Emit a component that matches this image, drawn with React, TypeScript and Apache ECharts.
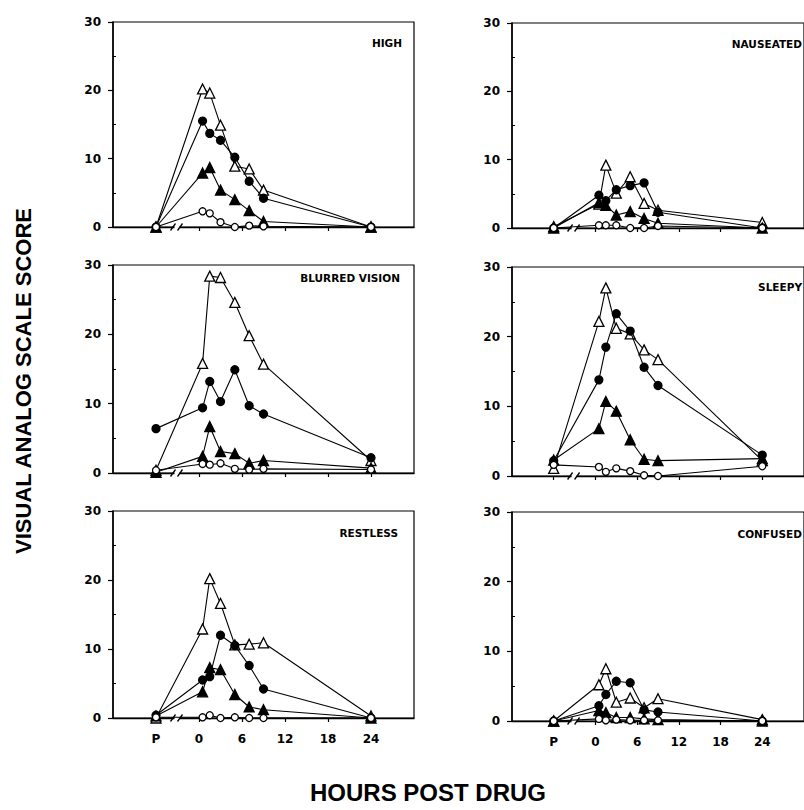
import React, { useEffect, useRef } from 'react';
import * as echarts from 'echarts';

// Sampling times (hours); P = pre-drug plotted at -6
const TIMES = [-6, 0.5, 1.5, 3, 5, 7, 9, 24];
const X_TICK_VALUES = [-6, 0, 6, 12, 18, 24];
const X_TICK_LABELS = ['P', '0', '6', '12', '18', '24'];
const Y_MINOR_TICKS = [5, 15, 25];
const BREAK_AT = [-3];

const PANEL_TITLES = ['HIGH', 'NAUSEATED', 'BLURRED VISION', 'SLEEPY', 'RESTLESS', 'CONFUSED'];

// Series per panel: open triangles, filled circles, filled triangles, open circles
const HIGH_OPEN_TRI = [0, 20.2, 19.6, 14.9, 8.9, 8.5, 5.4, 0];
const HIGH_FILLED_CIRC = [0, 15.5, 13.7, 12.7, 10.2, 6.7, 4.2, 0];
const HIGH_FILLED_TRI = [0, 7.9, 8.7, 5.4, 4.0, 2.4, 0.8, 0];
const HIGH_OPEN_CIRC = [0, 2.3, 2.0, 0.7, 0, 0.2, 0.1, 0];

const NAUS_OPEN_TRI = [0.2, 3.5, 9.2, 5.1, 7.5, 3.6, 2.6, 0.8];
const NAUS_FILLED_CIRC = [0, 4.8, 4.0, 5.6, 6.2, 6.6, 2.3, 0];
const NAUS_FILLED_TRI = [0, 3.7, 3.3, 1.9, 2.4, 1.4, 0.7, 0];
const NAUS_OPEN_CIRC = [0, 0.4, 0.4, 0.4, 0, 0, 0.3, 0];

const BLUR_OPEN_TRI = [0.4, 15.8, 28.4, 28.2, 24.6, 19.8, 15.7, 1.8];
const BLUR_FILLED_CIRC = [6.4, 9.4, 13.2, 10.3, 14.9, 9.7, 8.5, 2.2];
const BLUR_FILLED_TRI = [0.1, 2.4, 6.7, 3.1, 2.8, 1.4, 1.8, 0.7];
const BLUR_OPEN_CIRC = [0.4, 1.3, 1.2, 1.4, 0.6, 0.5, 0.6, 0.5];

const SLEEP_OPEN_TRI = [1.1, 22.2, 27.0, 21.2, 20.4, 18.1, 16.7, 2.2];
const SLEEP_FILLED_CIRC = [2.2, 13.8, 18.5, 23.3, 20.8, 15.6, 13.0, 3.0];
const SLEEP_FILLED_TRI = [2.3, 6.8, 10.7, 9.3, 5.2, 2.4, 2.2, 2.5];
const SLEEP_OPEN_CIRC = [1.6, 1.3, 0.6, 1.1, 0.7, 0.1, 0, 1.4];

const REST_OPEN_TRI = [0, 12.9, 20.2, 16.6, 10.6, 10.7, 10.9, 0.3];
const REST_FILLED_CIRC = [0.4, 5.5, 6.0, 12.0, 10.5, 7.6, 4.2, 0];
const REST_FILLED_TRI = [0.3, 3.8, 7.3, 7.0, 3.4, 1.6, 1.2, 0];
const REST_OPEN_CIRC = [0.1, 0.1, 0.4, 0, 0.1, 0, 0, 0];

const CONF_OPEN_TRI = [0, 5.2, 7.5, 2.7, 3.3, 1.9, 3.2, 0.2];
const CONF_FILLED_CIRC = [0, 2.2, 3.8, 5.7, 5.5, 1.6, 1.3, 0];
const CONF_FILLED_TRI = [0, 1.5, 1.2, 0.5, 0.5, 0.3, 0.2, 0];
const CONF_OPEN_CIRC = [0, 0.3, 0.1, 0.2, 0.1, 0.1, 0.1, 0];

const PANEL_DATA = [
  [HIGH_OPEN_TRI, HIGH_FILLED_CIRC, HIGH_FILLED_TRI, HIGH_OPEN_CIRC],
  [NAUS_OPEN_TRI, NAUS_FILLED_CIRC, NAUS_FILLED_TRI, NAUS_OPEN_CIRC],
  [BLUR_OPEN_TRI, BLUR_FILLED_CIRC, BLUR_FILLED_TRI, BLUR_OPEN_CIRC],
  [SLEEP_OPEN_TRI, SLEEP_FILLED_CIRC, SLEEP_FILLED_TRI, SLEEP_OPEN_CIRC],
  [REST_OPEN_TRI, REST_FILLED_CIRC, REST_FILLED_TRI, REST_OPEN_CIRC],
  [CONF_OPEN_TRI, CONF_FILLED_CIRC, CONF_FILLED_TRI, CONF_OPEN_CIRC],
];

// layout (pixels)
const GRIDS = [
  { left: 113, top: 22, width: 301, height: 205 },
  { left: 512, top: 23, width: 301, height: 205 },
  { left: 113, top: 265, width: 301, height: 208 },
  { left: 512, top: 267, width: 301, height: 209 },
  { left: 113, top: 511, width: 301, height: 207 },
  { left: 512, top: 512, width: 301, height: 209 },
];
const TITLE_POS = [
  [402, 43], [802, 44], [400, 278], [802, 287], [398, 533], [802, 534],
];

const MARKERS = [
  { symbol: 'triangle', size: 10, fill: '#fff' },
  { symbol: 'circle', size: 8, fill: '#000' },
  { symbol: 'triangle', size: 10, fill: '#000' },
  { symbol: 'circle', size: 7, fill: '#fff' },
];

const TICK_FONT = 'DejaVu Sans';

export default function App() {
  const ref = useRef<HTMLDivElement>(null);
  useEffect(() => {
    if (!ref.current) return;
    const chart = echarts.init(ref.current, undefined, { renderer: 'svg' });

    const grid = GRIDS.map((g) => ({
      ...g,
      show: true,
      borderColor: '#000',
      borderWidth: 1.2,
      backgroundColor: 'transparent',
    }));

    const xAxis = GRIDS.map((_, i) => ({
      type: 'value',
      gridIndex: i,
      min: -12,
      max: 30,
      interval: 6,
      splitLine: { show: false },
      axisLine: { show: true, onZero: false, lineStyle: { color: '#000', width: 1.3 } },
      axisTick: {
        show: true,
        customValues: X_TICK_VALUES,
        length: 4,
        lineStyle: { color: '#000', width: 1.2 },
      },
      axisLabel: {
        show: i >= 4,
        customValues: X_TICK_VALUES,
        margin: 15,
        color: '#000',
        fontFamily: TICK_FONT,
        fontWeight: 'bold',
        fontSize: 12,
        formatter: (v: number) => {
          const k = X_TICK_VALUES.indexOf(v);
          return k >= 0 ? X_TICK_LABELS[k] : '';
        },
      },
    }));

    const yAxis: any[] = [];
    GRIDS.forEach((_, i) => {
      yAxis.push({
        type: 'value',
        gridIndex: i,
        min: 0,
        max: 30,
        interval: 10,
        position: 'left',
        splitLine: { show: false },
        axisLine: { show: true, onZero: false, lineStyle: { color: '#000', width: 1.5 } },
        axisTick: { show: true, length: 5, lineStyle: { color: '#000', width: 1.2 } },
        axisLabel: {
          margin: 12,
          color: '#000',
          fontFamily: TICK_FONT,
          fontWeight: 'bold',
          fontSize: 12,
        },
      });
      yAxis.push({
        type: 'value',
        gridIndex: i,
        min: 0,
        max: 30,
        interval: 5,
        position: 'left',
        splitLine: { show: false },
        axisLine: { show: false, onZero: false },
        axisLabel: { show: false },
        axisTick: {
          show: true,
          inside: true,
          length: 3,
          customValues: Y_MINOR_TICKS,
          lineStyle: { color: '#000', width: 1 },
        },
      });
    });

    const series: any[] = [];
    PANEL_DATA.forEach((panel, i) => {
      series.push({
        type: 'custom',
        xAxisIndex: i,
        yAxisIndex: 2 * i,
        silent: true,
        z: 1,
        data: BREAK_AT.map((b) => [b, 0]),
        renderItem: (_p: any, api: any) => {
          const c = api.coord([api.value(0), api.value(1)]);
          return {
            type: 'group',
            children: [
              { type: 'rect', shape: { x: c[0] - 3, y: c[1] - 2, width: 5, height: 4 }, style: { fill: '#fff' } },
              { type: 'line', shape: { x1: c[0] - 7, y1: c[1] + 3.5, x2: c[0] - 2, y2: c[1] - 3.5 }, style: { stroke: '#000', lineWidth: 1.3 } },
              { type: 'line', shape: { x1: c[0] + 0, y1: c[1] + 3.5, x2: c[0] + 5, y2: c[1] - 3.5 }, style: { stroke: '#000', lineWidth: 1.3 } },
            ],
          };
        },
      });
      panel.forEach((vals, s) => {
        const m = MARKERS[s];
        series.push({
          type: 'line',
          xAxisIndex: i,
          yAxisIndex: 2 * i,
          z: 2 + s,
          data: TIMES.map((t, k) => [t, vals[k]]),
          symbol: m.symbol,
          symbolSize: m.size,
          showAllSymbol: true,
          clip: false,
          lineStyle: { color: '#000', width: 1.1 },
          itemStyle: { color: m.fill, borderColor: '#000', borderWidth: 1.3 },
          emphasis: { disabled: true },
        });
      });
    });

    const graphic: any[] = PANEL_TITLES.map((t, i) => ({
      type: 'text',
      x: TITLE_POS[i][0],
      y: TITLE_POS[i][1],
      style: {
        text: t,
        fill: '#000',
        font: `bold 10.5px "${TICK_FONT}"`,
        align: 'right',
        verticalAlign: 'middle',
      },
    }));
    graphic.push({
      type: 'text',
      x: 23,
      y: 381,
      rotation: Math.PI / 2,
      style: {
        text: 'VISUAL ANALOG SCALE SCORE',
        fill: '#000',
        font: 'bold 22px "Liberation Sans"',
        align: 'center',
        verticalAlign: 'middle',
      },
    });
    graphic.push({
      type: 'text',
      x: 428,
      y: 792,
      style: {
        text: 'HOURS POST DRUG',
        fill: '#000',
        font: 'bold 24px "Liberation Sans"',
        align: 'center',
        verticalAlign: 'middle',
      },
    });

    chart.setOption({
      animation: false,
      backgroundColor: '#fff',
      grid,
      xAxis,
      yAxis,
      series,
      graphic,
    });
    return () => chart.dispose();
  }, []);

  return (
    <div
      ref={ref}
      style={{ position: 'fixed', left: 0, top: 0, width: 804, height: 810, background: '#fff' }}
    />
  );
}
